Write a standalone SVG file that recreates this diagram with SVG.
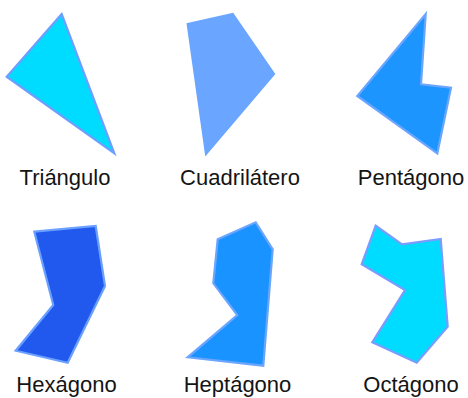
<svg xmlns="http://www.w3.org/2000/svg" width="468" height="398" viewBox="0 0 468 398">
<style>
.lbl{font-family:"Liberation Sans",Arial,sans-serif;font-size:22px;fill:#141414;text-anchor:middle}
.sh{stroke-width:2.2;stroke-linejoin:miter}
</style>
<rect width="468" height="398" fill="#ffffff"/>
<g id="triangulo">
<polygon class="sh" points="61.7,14 6.7,76.7 114.3,153.3" fill="#00DCFF" stroke="#6E9EFF"/>
<text class="lbl" x="65" y="185">Triángulo</text>
</g>
<g id="cuadrilatero">
<polygon class="sh" points="187.7,24 232.7,14 274,74 206,154" fill="#6AA5FF" stroke="#6AA5FF"/>
<text class="lbl" x="240" y="185">Cuadrilátero</text>
</g>
<g id="pentagono">
<polygon class="sh" points="425.7,14 421,84.3 451,87.7 437.3,153.3 357.3,96" fill="#1C95FF" stroke="#6AA5FF"/>
<text class="lbl" x="411" y="185">Pentágono</text>
</g>
<g id="hexagono">
<polygon class="sh" points="34.3,231.7 95.7,226 105,286 67.7,362.7 15.7,350.7 53.3,305" fill="#2158EE" stroke="#6AA0FF" stroke-width="2.6"/>
<text class="lbl" x="66.5" y="392">Hexágono</text>
</g>
<g id="heptagono">
<polygon class="sh" points="217.7,239.3 255.7,222.3 272.7,249.3 263.3,365.7 187.7,357.3 237.3,315 213.3,283.3" fill="#1893FF" stroke="#6AA5FF" stroke-width="2.6"/>
<text class="lbl" x="237.5" y="392">Heptágono</text>
</g>
<g id="octagono">
<polygon class="sh" points="375.7,225.7 402,244.3 440.7,239 447.7,326.7 416.7,362.7 372.3,342.3 405,290 361.7,264.3" fill="#00DCFF" stroke="#7A9CFF"/>
<text class="lbl" x="411" y="392">Octágono</text>
</g>
<g id="connectors"></g>
</svg>
